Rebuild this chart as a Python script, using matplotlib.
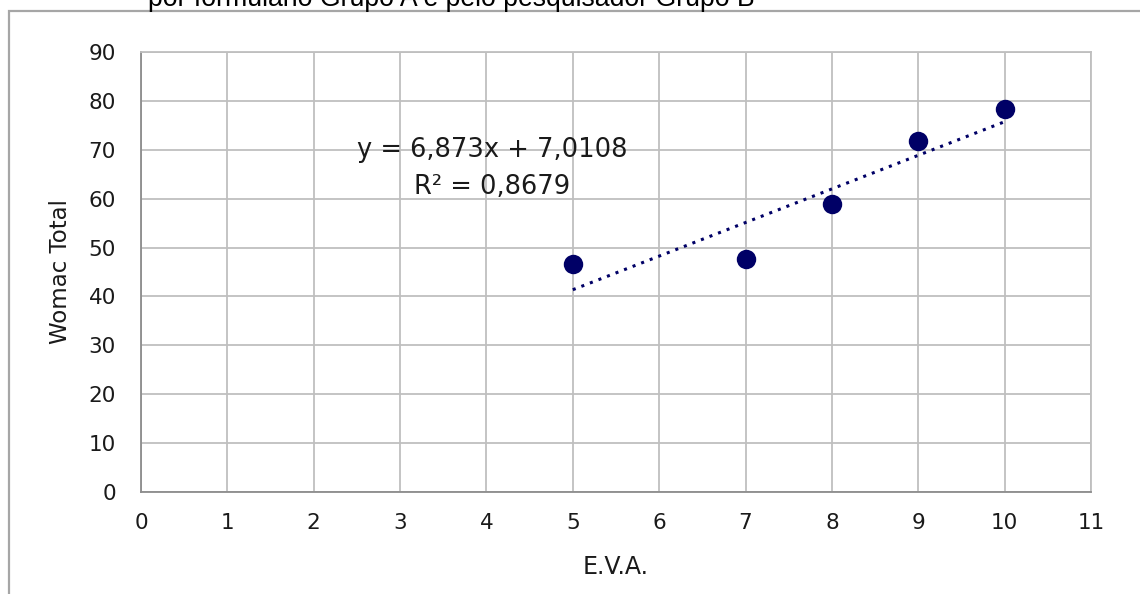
import numpy as np
import matplotlib.pyplot as plt
from matplotlib.patches import Rectangle

# dados
eva = [5, 7, 8, 9, 10]
womac = [46.6, 47.6, 58.9, 71.8, 78.3]
coef_a = 6.873   # inclinacao da reta de tendencia
coef_b = 7.0108  # intercepto
r2 = 0.8679
xticks = list(range(0, 12))
yticks = list(range(0, 100, 10))
titulo = 'por formulário Grupo A e pelo pesquisador Grupo B'

navy = '#000066'
grid_c = '#BFBFBF'
axis_c = '#8C8C8C'
fonte = 'DejaVu Sans'

fig = plt.figure(figsize=(11.4, 5.94), dpi=100)
fig.patch.set_facecolor('white')

# moldura do grafico (cortada pela borda da imagem)
fig.patches.append(Rectangle((9/1140, -0.2), 1.2, 1.2 - 10.5/594,
                             transform=fig.transFigure, fill=False,
                             edgecolor='#A6A6A6', lw=1.6))
fig.text(148/1140, 1 - 5.5/594, titulo, family='Liberation Sans', fontsize=19.2,
         va='baseline', ha='left', color='black')

ax = fig.add_axes([141/1140, 1 - 492/594, (1091 - 141)/1140, (492 - 52)/594])
ax.set_xlim(0, 11)
ax.set_ylim(0, 90)
ax.set_xticks(xticks)
ax.set_yticks(yticks)
ax.grid(True, color=grid_c, lw=1.3)
ax.set_axisbelow(True)
for s in ['top', 'right']:
    ax.spines[s].set_color(grid_c)
    ax.spines[s].set_linewidth(1.3)
for s in ['left', 'bottom']:
    ax.spines[s].set_color(axis_c)
    ax.spines[s].set_linewidth(1.3)
ax.tick_params(length=0, labelsize=15.5, colors='#1a1a1a')
ax.tick_params(axis='x', pad=15)
ax.tick_params(axis='y', pad=18)
for lb in ax.get_xticklabels() + ax.get_yticklabels():
    lb.set_family(fonte)

# pontos
ax.scatter(eva, womac, s=14**2, color=navy, zorder=3, linewidths=0)

# reta de tendencia
xt = np.array([min(eva), max(eva)])
ax.plot(xt, coef_a*xt + coef_b, color=navy, lw=2.2,
        linestyle=(0, (1, 2.0)), zorder=2)

txt = 'y = %s' % str(coef_a).replace('.', ',') + 'x + ' + str(coef_b).replace('.', ',')
txt += '\nR² = ' + str(r2).replace('.', ',')
ax.text(4.07, 66.2, txt, ha='center', va='center', fontsize=18.5,
        family=fonte, linespacing=1.55, color='#1a1a1a')

ax.set_xlabel('E.V.A.', family=fonte, fontsize=17, labelpad=16, color='#1a1a1a')
ax.set_ylabel('Womac Total', family=fonte, fontsize=16.5, labelpad=12, color='#1a1a1a')

fig.savefig('out.png', dpi=100)
